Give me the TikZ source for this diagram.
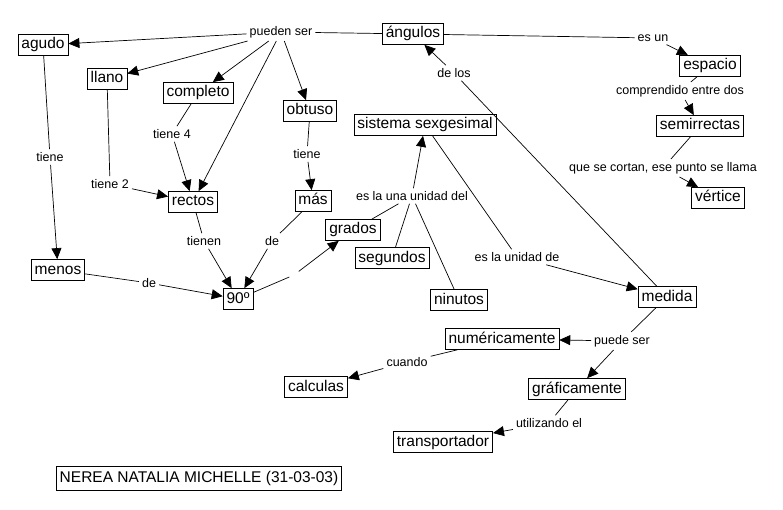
\documentclass[tikz,border=0pt]{standalone}
\usepackage{fontspec}
\setmainfont{Liberation Sans}
\usetikzlibrary{arrows.meta}

\begin{document}
\begin{tikzpicture}[x=1pt,y=-1pt,
	concept/.style={draw, line width=0.7pt, inner xsep=3.5pt, inner ysep=3pt, font=\fontsize{15.5}{18}\selectfont, text height=11.5pt, text depth=3.5pt},
	linkword/.style={inner sep=3pt, font=\fontsize{12.5}{15}\selectfont},
	link/.style={line width=0.7pt},
	arrowlink/.style={link, -{Triangle[length=11pt,width=10pt]}}]
	\useasboundingbox (0,0) rectangle (783,510);
	\node[concept] (angulos) at (413,34) {ángulos};
	\node[concept] (agudo) at (43,45) {agudo};
	\node[concept] (llano) at (107,79) {llano};
	\node[concept] (completo) at (198,93) {completo};
	\node[concept] (obtuso) at (310,111) {obtuso};
	\node[concept] (rectos) at (193,202) {rectos};
	\node[concept] (mas) at (313,201) {más};
	\node[concept] (menos) at (58,270) {menos};
	\node[concept] (noventa) at (238,299) {90º};
	\node[concept] (sistema) at (425,125) {sistema sexgesimal};
	\node[concept] (grados) at (353,230) {grados};
	\node[concept] (segundos) at (392,258) {segundos};
	\node[concept] (ninutos) at (459,300) {ninutos};
	\node[concept] (medida) at (667,297) {medida};
	\node[concept] (numericamente) at (502,339) {numéricamente};
	\node[concept] (calculas) at (316,387) {calculas};
	\node[concept] (graficamente) at (577,389) {gráficamente};
	\node[concept] (transportador) at (443,442) {transportador};
	\node[concept] (espacio) at (710,66) {espacio};
	\node[concept] (semirrectas) at (700,126) {semirrectas};
	\node[concept] (vertice) at (718,198) {vértice};
	\node[concept, inner ysep=4.5pt] (nerea) at (199,478) {NEREA NATALIA MICHELLE (31-03-03)};

	\node[linkword] (pueden) at (281,32) {pueden ser};
	\node[linkword] (tieneA) at (50,157) {tiene};
	\node[linkword] (tieneB) at (110,184) {tiene 2};
	\node[linkword] (tieneC) at (172,134) {tiene 4};
	\node[linkword] (tieneD) at (307,154) {tiene};
	\node[linkword] (tienen) at (204,241) {tienen};
	\node[linkword] (deMas) at (272,241) {de};
	\node[linkword] (deMenos) at (149,283) {de};
	\node[inner sep=0pt, minimum size=9pt] (blank) at (294,275) {};
	\node[linkword] (unidadDel) at (412,196) {es la una unidad del};
	\node[linkword] (unidadDe) at (517,257) {es la unidad de};
	\node[linkword] (deLos) at (454,73) {de los};
	\node[linkword] (puedeSer) at (622,341) {puede ser};
	\node[linkword] (cuando) at (407,362) {cuando};
	\node[linkword] (utilizando) at (549,423) {utilizando el};
	\node[linkword] (esUn) at (653,38) {es un};
	\node[linkword] (comprendido) at (680,91) {comprendido entre dos};
	\node[linkword] (cortan) at (663,168) {que se cortan, ese punto se llama};

	\draw[link] (angulos) -- (pueden);
	\foreach \t in {agudo,llano,completo,rectos,obtuso} \draw[arrowlink] (pueden) -- (\t);
	\draw[link] (agudo) -- (tieneA);
	\draw[arrowlink] (tieneA) -- (menos);
	\draw[link] (llano) -- (tieneB);
	\draw[arrowlink] (tieneB) -- (rectos);
	\draw[link] (completo) -- (tieneC);
	\draw[arrowlink] (tieneC) -- (rectos);
	\draw[link] (obtuso) -- (tieneD);
	\draw[arrowlink] (tieneD) -- (mas);
	\draw[link] (rectos) -- (tienen);
	\draw[arrowlink] (tienen) -- (noventa);
	\draw[link] (mas) -- (deMas);
	\draw[arrowlink] (deMas) -- (noventa);
	\draw[link] (menos) -- (deMenos);
	\draw[arrowlink] (deMenos) -- (noventa);
	\draw[link] (noventa) -- (blank);
	\draw[arrowlink] (blank) -- (grados);
	\foreach \u in {grados,segundos,ninutos} \draw[link] (\u) -- (unidadDel);
	\draw[arrowlink] (unidadDel) -- (sistema);
	\draw[link] (sistema) -- (unidadDe);
	\draw[arrowlink] (unidadDe) -- (medida);
	\draw[link] (medida) -- (deLos);
	\draw[arrowlink] (deLos) -- (angulos);
	\draw[link] (medida) -- (puedeSer);
	\draw[arrowlink] (puedeSer) -- (numericamente);
	\draw[arrowlink] (puedeSer) -- (graficamente);
	\draw[link] (numericamente) -- (cuando);
	\draw[arrowlink] (cuando) -- (calculas);
	\draw[link] (graficamente) -- (utilizando);
	\draw[arrowlink] (utilizando) -- (transportador);
	\draw[link] (angulos) -- (esUn);
	\draw[arrowlink] (esUn) -- (espacio);
	\draw[link] (espacio) -- (comprendido);
	\draw[arrowlink] (comprendido) -- (semirrectas);
	\draw[link] (semirrectas) -- (cortan);
	\draw[arrowlink] (cortan) -- (vertice);
\end{tikzpicture}
\end{document}
